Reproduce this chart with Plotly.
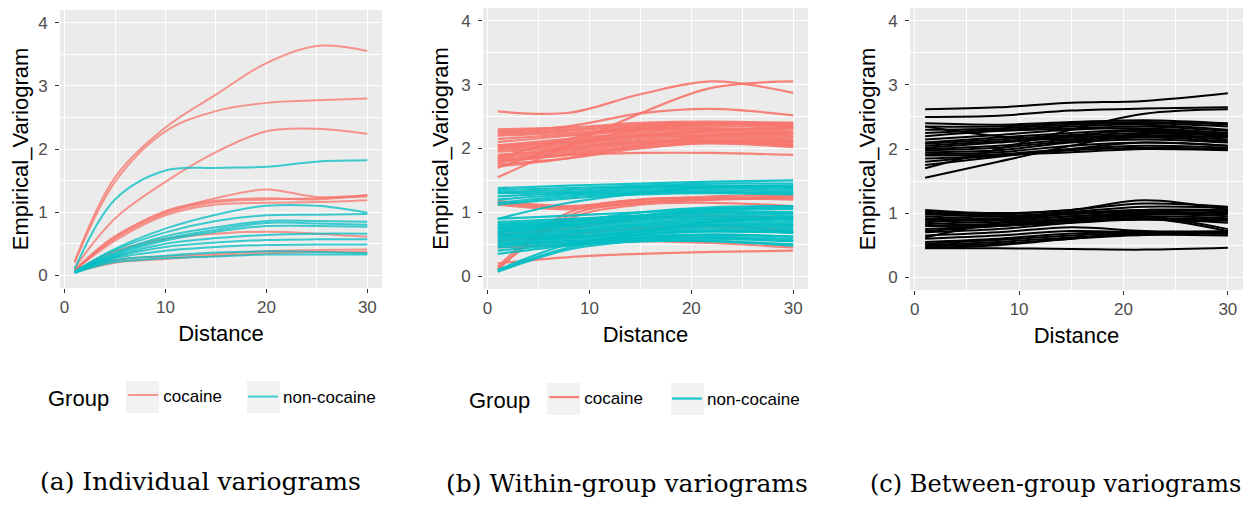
import plotly.graph_objects as go

# ---------------- data ----------------
dist_a = [1, 5, 10, 15, 20, 25, 30]
dist_bc = [1, 8, 15, 22, 30]

# (a) individual variograms
a_cocaine = [
    [0.22, 1.55, 2.34, 2.86, 3.36, 3.63, 3.55],
    [0.20, 1.48, 2.28, 2.60, 2.73, 2.77, 2.80],
    [0.12, 0.90, 1.48, 1.95, 2.28, 2.32, 2.24],
    [0.09, 0.62, 1.00, 1.22, 1.36, 1.24, 1.27],
    [0.08, 0.60, 1.02, 1.18, 1.22, 1.20, 1.27],
    [0.08, 0.58, 0.98, 1.16, 1.20, 1.22, 1.25],
    [0.08, 0.55, 0.95, 1.12, 1.15, 1.16, 1.19],
    [0.06, 0.38, 0.58, 0.66, 0.69, 0.66, 0.61],
    [0.05, 0.24, 0.30, 0.34, 0.38, 0.40, 0.41],
    [0.05, 0.20, 0.26, 0.31, 0.35, 0.37, 0.37],
]
a_noncocaine = [
    [0.10, 1.20, 1.66, 1.70, 1.72, 1.80, 1.82],
    [0.06, 0.42, 0.74, 0.96, 1.10, 1.10, 0.99],
    [0.06, 0.40, 0.68, 0.86, 0.95, 0.96, 0.97],
    [0.05, 0.36, 0.62, 0.76, 0.86, 0.86, 0.85],
    [0.05, 0.34, 0.58, 0.72, 0.83, 0.82, 0.80],
    [0.05, 0.32, 0.55, 0.69, 0.78, 0.78, 0.77],
    [0.05, 0.30, 0.50, 0.59, 0.64, 0.66, 0.66],
    [0.05, 0.29, 0.45, 0.52, 0.56, 0.57, 0.57],
    [0.05, 0.27, 0.39, 0.45, 0.48, 0.49, 0.49],
    [0.04, 0.24, 0.31, 0.36, 0.38, 0.37, 0.35],
    [0.04, 0.21, 0.27, 0.30, 0.33, 0.33, 0.33],
]

# (b) within-group variograms
b_cocaine = [
    [2.58, 2.56, 2.85, 3.05, 2.87],
    [1.55, 2.05, 2.55, 2.95, 3.05],
    [2.27, 2.35, 2.55, 2.62, 2.52],
    [2.30, 2.33, 2.40, 2.42, 2.40],
    [2.25, 2.30, 2.38, 2.40, 2.38],
    [2.22, 2.28, 2.35, 2.38, 2.35],
    [2.20, 2.25, 2.32, 2.35, 2.32],
    [2.15, 2.22, 2.30, 2.32, 2.28],
    [2.10, 2.20, 2.28, 2.30, 2.25],
    [2.05, 2.15, 2.25, 2.28, 2.22],
    [2.02, 2.12, 2.22, 2.25, 2.20],
    [2.00, 2.08, 2.20, 2.22, 2.18],
    [1.98, 2.05, 2.18, 2.20, 2.15],
    [1.95, 2.02, 2.15, 2.18, 2.12],
    [1.90, 2.00, 2.12, 2.15, 2.10],
    [1.88, 1.98, 2.10, 2.12, 2.08],
    [1.85, 1.95, 2.08, 2.12, 2.05],
    [1.82, 1.92, 2.05, 2.10, 2.05],
    [1.80, 1.90, 2.02, 2.08, 2.02],
    [1.78, 1.90, 1.93, 1.93, 1.90],
    [1.75, 1.85, 2.00, 2.10, 2.12],
    [1.72, 1.85, 2.05, 2.20, 2.25],
    [1.85, 2.15, 2.35, 2.38, 2.35],
    [1.70, 2.05, 2.30, 2.38, 2.40],
    [2.05, 2.10, 2.20, 2.28, 2.32],
    [1.15, 1.08, 1.18, 1.22, 1.25],
    [1.18, 1.10, 1.20, 1.25, 1.28],
    [1.12, 1.05, 1.15, 1.20, 1.22],
    [0.15, 1.00, 1.20, 1.22, 1.20],
    [0.10, 0.95, 1.15, 1.20, 1.25],
    [0.12, 0.90, 1.12, 1.15, 1.10],
    [0.20, 0.30, 0.35, 0.38, 0.40],
    [0.45, 0.50, 0.55, 0.52, 0.45],
    [0.55, 0.65, 0.75, 0.78, 0.72],
    [0.65, 0.75, 0.90, 0.95, 0.90],
]
b_noncocaine = [
    [1.38, 1.42, 1.45, 1.48, 1.50],
    [1.35, 1.38, 1.42, 1.45, 1.45],
    [1.32, 1.35, 1.40, 1.42, 1.40],
    [1.30, 1.32, 1.38, 1.40, 1.38],
    [1.25, 1.30, 1.35, 1.38, 1.35],
    [1.20, 1.28, 1.32, 1.35, 1.32],
    [1.15, 1.25, 1.30, 1.32, 1.30],
    [1.12, 1.22, 1.28, 1.30, 1.28],
    [0.90, 1.15, 1.30, 1.40, 1.42],
    [0.90, 0.95, 1.00, 1.05, 1.05],
    [0.85, 0.90, 0.95, 1.02, 1.00],
    [0.82, 0.88, 0.95, 1.00, 0.98],
    [0.80, 0.85, 0.92, 0.98, 0.95],
    [0.78, 0.82, 0.90, 0.95, 0.92],
    [0.75, 0.80, 0.88, 0.92, 0.90],
    [0.72, 0.78, 0.85, 0.90, 0.88],
    [0.70, 0.75, 0.82, 0.88, 0.85],
    [0.68, 0.72, 0.80, 0.85, 0.82],
    [0.65, 0.70, 0.78, 0.82, 0.80],
    [0.62, 0.68, 0.75, 0.80, 0.78],
    [0.60, 0.65, 0.72, 0.78, 0.75],
    [0.58, 0.62, 0.70, 0.75, 0.72],
    [0.55, 0.60, 0.68, 0.72, 0.70],
    [0.52, 0.58, 0.65, 0.70, 0.68],
    [0.50, 0.55, 0.62, 0.65, 0.62],
    [0.48, 0.55, 0.60, 0.62, 0.58],
    [0.45, 0.52, 0.58, 0.60, 0.55],
    [0.40, 0.50, 0.55, 0.55, 0.50],
    [0.35, 0.48, 0.55, 0.55, 0.48],
    [0.08, 0.45, 0.60, 0.65, 0.62],
    [0.10, 0.50, 0.65, 0.70, 0.68],
    [0.07, 0.42, 0.55, 0.58, 0.55],
    [0.75, 0.85, 1.00, 1.08, 1.10],
    [0.70, 0.80, 0.95, 1.05, 1.08],
    [0.65, 0.62, 0.70, 0.85, 0.92],
]

# (c) between-group variograms
c_between = [
    [2.62, 2.65, 2.72, 2.75, 2.87],
    [2.50, 2.52, 2.60, 2.63, 2.65],
    [2.40, 2.38, 2.42, 2.45, 2.40],
    [2.35, 2.35, 2.40, 2.42, 2.38],
    [2.30, 2.32, 2.38, 2.40, 2.35],
    [2.25, 2.30, 2.35, 2.38, 2.30],
    [2.20, 2.28, 2.32, 2.35, 2.28],
    [2.15, 2.22, 2.30, 2.32, 2.25],
    [2.10, 2.18, 2.25, 2.30, 2.22],
    [2.08, 2.15, 2.22, 2.28, 2.20],
    [2.05, 2.12, 2.20, 2.25, 2.20],
    [2.02, 2.10, 2.18, 2.22, 2.18],
    [2.00, 2.05, 2.15, 2.20, 2.15],
    [1.98, 2.02, 2.12, 2.18, 2.12],
    [1.95, 1.98, 2.10, 2.15, 2.10],
    [1.92, 1.95, 2.05, 2.10, 2.05],
    [1.90, 1.92, 2.00, 2.05, 2.02],
    [1.85, 1.90, 1.98, 2.02, 2.00],
    [1.80, 1.90, 1.95, 2.00, 1.98],
    [1.75, 1.88, 2.00, 2.10, 2.05],
    [1.55, 1.80, 2.05, 2.25, 2.20],
    [1.70, 2.00, 2.30, 2.55, 2.62],
    [2.35, 2.20, 2.15, 2.20, 2.25],
    [1.05, 1.00, 1.05, 1.20, 1.05],
    [1.02, 0.98, 1.05, 1.15, 1.10],
    [1.00, 0.95, 1.02, 1.10, 1.08],
    [0.98, 0.95, 1.00, 1.05, 1.05],
    [0.95, 0.92, 1.00, 1.05, 1.02],
    [0.92, 0.90, 0.98, 1.02, 1.00],
    [0.90, 0.88, 0.95, 1.00, 0.98],
    [0.88, 0.85, 0.92, 0.98, 0.95],
    [0.85, 0.82, 0.90, 0.95, 0.92],
    [0.82, 0.80, 0.88, 0.92, 0.90],
    [0.80, 0.82, 0.88, 0.90, 0.88],
    [0.75, 0.80, 0.85, 0.90, 0.85],
    [0.72, 0.80, 0.90, 0.95, 0.75],
    [0.70, 0.75, 0.85, 0.92, 0.72],
    [0.65, 0.70, 0.78, 0.72, 0.70],
    [0.60, 0.65, 0.72, 0.70, 0.68],
    [0.55, 0.60, 0.68, 0.70, 0.68],
    [0.52, 0.58, 0.65, 0.70, 0.72],
    [0.50, 0.55, 0.62, 0.68, 0.70],
    [0.48, 0.52, 0.60, 0.66, 0.65],
    [0.45, 0.45, 0.44, 0.43, 0.46],
    [0.46, 0.50, 0.60, 0.68, 0.68],
    [0.62, 0.85, 0.95, 0.98, 1.00],
]

group_names = ["cocaine", "non-cocaine"]
x_ticks = [0, 10, 20, 30]
y_ticks = [0, 1, 2, 3, 4]
captions = ["(a) Individual variograms", "(b) Within-group variograms",
            "(c) Between-group variograms"]

# ---------------- styling ----------------
RED = "#F8766D"
CYAN = "#00BFC4"
SANS = "Liberation Sans, Arial, sans-serif"
SERIF = "DejaVu Serif, serif"

fig = go.Figure()


def add_group(lines, xs, color, name, xa, ya, legend, opacity, width=2.0):
    for i, ys in enumerate(lines):
        fig.add_trace(go.Scatter(
            x=xs, y=ys, mode="lines",
            line=dict(color=color, width=width, shape="spline", smoothing=1.0),
            opacity=opacity, name=name,
            showlegend=(legend is not None and i == 0),
            legend=legend if legend else "legend",
            xaxis=xa, yaxis=ya, hoverinfo="skip"))


add_group(a_cocaine, dist_a, RED, group_names[0], "x", "y", "legend", 0.75)
add_group(a_noncocaine, dist_a, CYAN, group_names[1], "x", "y", "legend3", 0.75)
add_group(b_cocaine, dist_bc, RED, group_names[0], "x2", "y2", "legend2", 0.9, 2.2)
add_group(b_noncocaine, dist_bc, CYAN, group_names[1], "x2", "y2", "legend4", 0.9, 2.2)
add_group(c_between, dist_bc, "black", "between", "x3", "y3", None, 1.0, 2.0)

# page body has an 8px margin: lay out in page pixels and convert
OFF = 8
W, H = 1251 - 2 * OFF, 508 - 2 * OFF


def px(x):
    return min(1.0, max(0.0, (x - OFF) / W))


def py(y):
    return min(1.0, max(0.0, 1 - (y - OFF) / H))


panels = [  # plot-area page-pixel boxes: left, right, top, bottom
    (60, 382, 10, 288),
    (483, 808, 8, 289),
    (910, 1243, 8, 290),
]

layout = dict(
    width=W, height=H, margin=dict(l=0, r=0, t=0, b=0),
    paper_bgcolor="white", plot_bgcolor="#EBEBEB",
    font=dict(family=SANS, color="black"),
)
for k, (l, r, t, b) in enumerate(panels):
    sfx = "" if k == 0 else str(k + 1)
    layout["xaxis" + sfx] = dict(
        domain=[px(l), px(r)], anchor="y" + sfx, range=[-0.45, 31.45],
        tickvals=x_ticks, ticks="outside", ticklen=4, tickwidth=1.1,
        tickcolor="#333333", tickfont=dict(size=17, color="#4D4D4D"),
        showgrid=True, gridcolor="white", gridwidth=1.3, zeroline=False,
        minor=dict(dtick=5, tick0=0, showgrid=True, gridcolor="white", gridwidth=0.6),
        title=dict(text="Distance", font=dict(size=22, color="black"), standoff=9),
        fixedrange=True)
    layout["yaxis" + sfx] = dict(
        domain=[py(b), py(t)], anchor="x" + sfx, range=[-0.2, 4.2],
        tickvals=y_ticks, ticks="outside", ticklen=4, tickwidth=1.1,
        ticklabelstandoff=4,
        tickcolor="#333333", tickfont=dict(size=17, color="#4D4D4D"),
        showgrid=True, gridcolor="white", gridwidth=1.3, zeroline=False,
        minor=dict(dtick=0.5, tick0=0, showgrid=True, gridcolor="white", gridwidth=0.6),
        title=dict(text="Empirical_Variogram", font=dict(size=22, color="black"), standoff=6),
        fixedrange=True)

leg_common = dict(orientation="h", xanchor="left", yanchor="middle",
                  bgcolor="rgba(0,0,0,0)", itemwidth=30,
                  font=dict(size=17, color="black"), traceorder="normal")
leg_title = dict(text="Group ", font=dict(size=22, color="black"), side="left")
layout["legend"] = dict(leg_common, x=px(46), y=py(397), title=leg_title)
layout["legend3"] = dict(leg_common, x=px(243), y=py(397))
layout["legend2"] = dict(leg_common, x=px(467), y=py(399), title=leg_title)
layout["legend4"] = dict(leg_common, x=px(667), y=py(399))

# grey key backgrounds (ggplot legend keys)
shapes = []
for kx, ky in [(126, 397), (247, 397), (547, 399), (671, 399)]:
    shapes.append(dict(type="rect", xref="paper", yref="paper", layer="below",
                       x0=px(kx), x1=px(kx + 33), y0=py(ky + 16), y1=py(ky - 16),
                       fillcolor="#F2F2F2", line=dict(width=0)))
layout["shapes"] = shapes

ann = []
for (cx, cy, fs), txt in zip([(200, 481, 25), (627, 483, 25), (1055, 484, 24)], captions):
    ann.append(dict(text=txt, x=px(cx), y=py(cy), xref="paper", yref="paper",
                    showarrow=False, xanchor="center", yanchor="middle",
                    font=dict(family=SERIF, size=fs, color="black")))
layout["annotations"] = ann

fig.update_layout(**layout)
fig.write_html("out.html")
